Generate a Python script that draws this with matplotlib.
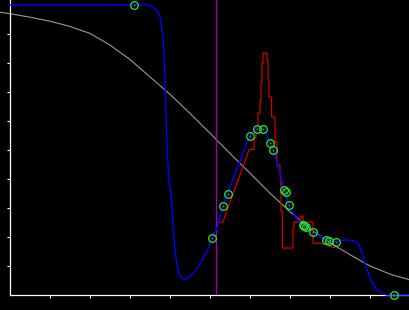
import matplotlib
matplotlib.use("Agg")
import matplotlib.pyplot as plt

# ── data (axis units are arbitrary 0-10 / 0-1) ──────────────────────────────

# smooth fitted curve (blue)
fit_x = [0.0, 2.25, 3.45, 3.55, 3.625, 3.7, 3.75, 3.79, 3.83, 3.86, 3.89, 3.925,
         3.975, 4.04, 4.08, 4.125, 4.17, 4.21, 4.29, 4.375, 4.46, 4.58, 4.71,
         4.83, 4.96, 5.07, 5.17, 5.25, 5.33, 5.5, 5.75, 5.875, 6.0, 6.08, 6.17,
         6.25, 6.33, 6.42, 6.5, 6.58, 6.67, 6.75, 6.86, 6.98, 7.125, 7.33, 7.58,
         7.83, 8.125, 8.25, 8.375, 8.625, 8.71, 8.79, 8.875, 8.96, 9.04, 9.17,
         9.29, 9.42, 10.0]
fit_y = [1.0, 1.0, 1.0, 0.996, 0.987, 0.975, 0.959, 0.924, 0.879, 0.81, 0.672,
         0.5, 0.397, 0.328, 0.224, 0.155, 0.11, 0.079, 0.058, 0.054, 0.061, 0.075,
         0.098, 0.127, 0.161, 0.196, 0.23, 0.27, 0.31, 0.373, 0.462, 0.51, 0.547,
         0.566, 0.575, 0.578, 0.571, 0.552, 0.525, 0.5, 0.46, 0.42, 0.359, 0.31,
         0.27, 0.241, 0.216, 0.196, 0.182, 0.187, 0.19, 0.187, 0.178, 0.149,
         0.109, 0.075, 0.046, 0.017, 0.006, 0.0, 0.0]

# reference curve (gray)
ref_x = [-0.25, 0.0, 0.5, 1.0, 1.5, 2.0, 2.5, 3.0, 3.5, 4.0, 4.5, 5.0, 5.5,
         6.0, 6.5, 7.0, 7.5, 8.0, 8.5, 9.0, 9.5, 10.0]
ref_y = [0.975, 0.970, 0.958, 0.944, 0.926, 0.902, 0.862, 0.812, 0.752, 0.692,
         0.626, 0.558, 0.488, 0.420, 0.351, 0.287, 0.228, 0.180, 0.139, 0.100,
         0.072, 0.052]

# binned estimate (red)
bin_x = [5.21, 5.32, 5.98, 6.1, 6.1, 6.15, 6.15, 6.2, 6.2, 6.25, 6.25, 6.275,
         6.275, 6.3, 6.3, 6.325, 6.325, 6.425, 6.425, 6.45, 6.45, 6.475, 6.475,
         6.54, 6.54, 6.625, 6.625, 6.675, 6.675, 6.75, 6.75, 6.775, 6.775, 6.81,
         6.81, 7.075, 7.075, 7.1, 7.1, 7.25, 7.25, 7.325, 7.325, 7.575, 7.575,
         7.8, 8.075, 8.125]
bin_y = [0.251, 0.251, 0.502, 0.502, 0.541, 0.541, 0.576, 0.576, 0.628, 0.628,
         0.672, 0.672, 0.734, 0.734, 0.8, 0.8, 0.834, 0.834, 0.81, 0.81, 0.741,
         0.741, 0.683, 0.683, 0.614, 0.614, 0.528, 0.528, 0.448, 0.448, 0.414,
         0.414, 0.29, 0.29, 0.162, 0.162, 0.228, 0.228, 0.252, 0.252, 0.272,
         0.272, 0.252, 0.252, 0.179, 0.178, 0.164, 0.164]

# observed points (green)
obs_x = [3.11, 5.06, 5.33, 5.44, 6.01, 6.18, 6.33, 6.50, 6.58, 6.86, 6.89, 6.98,
         7.32, 7.36, 7.40, 7.58, 7.91, 7.98, 8.14, 9.60]
obs_y = [1.0, 0.196, 0.308, 0.348, 0.547, 0.573, 0.571, 0.525, 0.500, 0.362,
         0.355, 0.310, 0.241, 0.237, 0.233, 0.216, 0.190, 0.186, 0.182, 0.0]

marker_x = 5.16
x_ticks = [1, 2, 3, 4, 5, 6, 7, 8, 9]
y_ticks = [0.1, 0.2, 0.3, 0.4, 0.5, 0.6, 0.7, 0.8, 0.9]


# ── plot ──────────────────────────────────────────────────────────────────────

fig = plt.figure(figsize=(4.1, 3.1), dpi=100, facecolor="black")
ax = fig.add_axes([10 / 410, 15 / 310, 400 / 410, 295 / 310], facecolor="black")

ax.plot(ref_x, ref_y, color="#9a9a9a", lw=0.8, clip_on=False, zorder=2)
ax.axvline(marker_x, color="#a000a0", lw=1.0, zorder=3)
ax.plot(bin_x, bin_y, color="#cc0000", lw=0.9, zorder=4)
ax.plot(fit_x, fit_y, color="#0000ff", lw=1.0, clip_on=False, zorder=5)
ax.plot(obs_x, obs_y, ls="none", marker="o", ms=5.5, mfc="none", mec="#22ee22",
        mew=0.9, clip_on=False, zorder=6)
ax.plot(obs_x, obs_y, ls="none", marker="o", ms=1.2, mfc="#22aa22", mec="none",
        clip_on=False, zorder=6)

ax.set_xlim(0, 10)
ax.set_ylim(0, 295 / 290)
ax.set_xticks(x_ticks)
ax.set_yticks(y_ticks)
ax.set_xticklabels([])
ax.set_yticklabels([])
ax.tick_params(colors="white", length=2.5, width=0.8, direction="out")
for side in ["top", "right"]:
    ax.spines[side].set_visible(False)
for side in ["left", "bottom"]:
    ax.spines[side].set_color("white")
    ax.spines[side].set_linewidth(0.9)

fig.savefig("out.png", dpi=100, facecolor="black")
